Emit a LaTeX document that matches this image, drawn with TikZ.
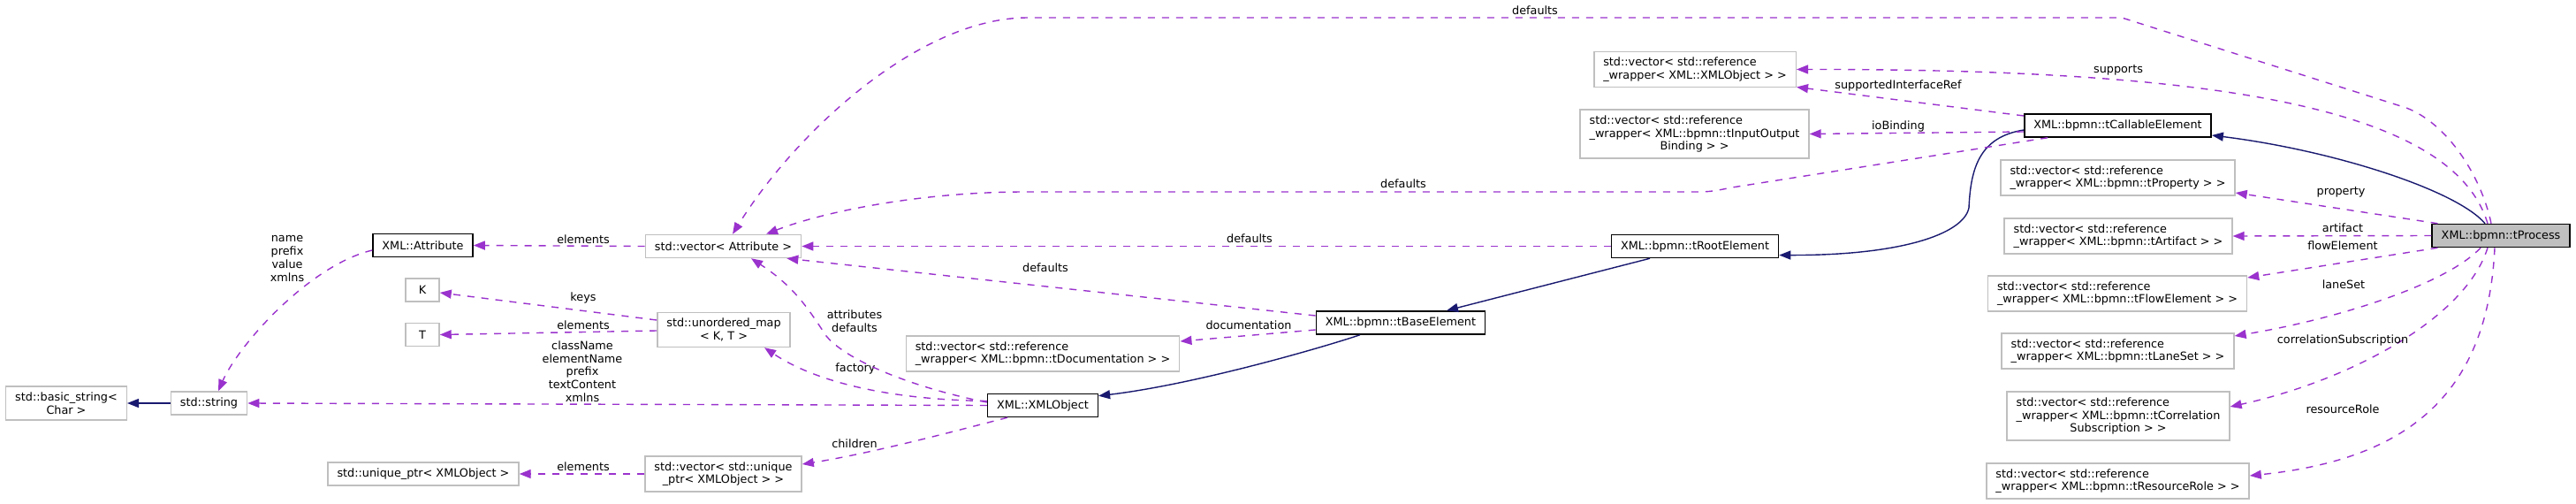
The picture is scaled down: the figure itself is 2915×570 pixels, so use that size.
\documentclass[tikz,border=0pt]{standalone}
\usepackage{fontspec}
\usepackage{xcolor}
\usetikzlibrary{arrows.meta}
\newfontfamily\doxfont{DejaVu Sans}
\definecolor{doxpurple}{HTML}{9A32CD}
\definecolor{doxnavy}{HTML}{191970}
\definecolor{doxgrey}{HTML}{BFBFBF}

\begin{document}
\begin{tikzpicture}[
    x=1pt, y=-1pt,
    cls/.style={draw=doxgrey, line width=1.5pt, fill=white, font=\doxfont\fontsize{12.8}{14.7}\selectfont, align=center, inner xsep=10.5pt, inner ysep=6.5pt, minimum height=26pt},
    doc/.style={cls, draw=black},
    focus/.style={doc, fill=doxgrey},
    lft/.style={align=left},
    lbl/.style={font=\doxfont\fontsize{12.8}{14.7}\selectfont, align=center, inner sep=0pt},
    derive/.style={draw=doxnavy, line width=1.4pt, -{Triangle[length=13pt,width=10pt]}},
    member/.style={draw=doxpurple, line width=1.4pt, dash pattern=on 8pt off 8pt, -{Triangle[length=13pt,width=10pt]}}
]
\useasboundingbox (0,0) rectangle (2915,570);

\node[cls] (basicstr) at (75,456) {std::basic\_string<\\Char >};
\node[cls] (string) at (236.5,456) {std::string};
\node[doc] (attribute) at (478.5,277.5) {XML::Attribute};
\node[cls, minimum width=38pt] (keyK) at (478,328) {K};
\node[cls, minimum width=38pt] (valT) at (478,378.5) {T};
\node[cls] (uniqueptr) at (479,536) {std::unique\_ptr< XMLObject >};
\node[cls] (vecattr) at (818.5,278.5) {std::vector< Attribute >};
\node[cls] (umap) at (819,373) {std::unordered\_map\\< K, T >};
\node[cls] (vecuptr) at (818.5,536) {std::vector< std::unique\\\_ptr< XMLObject > >};
\node[cls, lft] (vecdoc) at (1180,400) {std::vector< std::reference\\\_wrapper< XML::bpmn::tDocumentation > >};
\node[doc] (xmlobject) at (1180,458.5) {XML::XMLObject};
\node[doc] (tbase) at (1585,365) {XML::bpmn::tBaseElement};
\node[doc] (troot) at (1918,278.5) {XML::bpmn::tRootElement};
\node[cls, lft] (vecxobj) at (1918,78.5) {std::vector< std::reference\\\_wrapper< XML::XMLObject > >};
\node[cls, lft] (vecio) at (1917.5,151.5) {std::vector< std::reference\\\_wrapper< XML::bpmn::tInputOutput\\\hfil Binding > >};
\node[doc] (tcallable) at (2396.5,142) {XML::bpmn::tCallableElement};
\node[cls, lft] (vecprop) at (2396.5,201) {std::vector< std::reference\\\_wrapper< XML::bpmn::tProperty > >};
\node[cls, lft] (vecart) at (2397,267) {std::vector< std::reference\\\_wrapper< XML::bpmn::tArtifact > >};
\node[cls, lft] (vecflow) at (2396,332) {std::vector< std::reference\\\_wrapper< XML::bpmn::tFlowElement > >};
\node[cls, lft] (veclane) at (2396.5,397) {std::vector< std::reference\\\_wrapper< XML::bpmn::tLaneSet > >};
\node[cls, lft] (veccorr) at (2397,470.5) {std::vector< std::reference\\\_wrapper< XML::bpmn::tCorrelation\\\hfil Subscription > >};
\node[cls, lft] (vecrole) at (2396.5,544) {std::vector< std::reference\\\_wrapper< XML::bpmn::tResourceRole > >};
\node[focus] (tprocess) at (2830,266.5) {XML::bpmn::tProcess};

% inheritance
\draw[derive] (string.west) -- (basicstr.east);
\draw[derive] ([xshift=-46pt]tbase.south) .. controls (1490,395) and (1350,435) .. ([yshift=-3pt]xmlobject.north east);
\draw[derive] ([xshift=-51pt]troot.south) -- ([xshift=52pt]tbase.north);
\draw[derive] ([yshift=-5pt]tcallable.west) .. controls (2240,155) and (2230,190) .. (2228,235) .. controls (2222,265) and (2150,289) .. ([yshift=-10pt]troot.east);
\draw[derive] ([xshift=-18pt]tprocess.north) .. controls (2780,215) and (2640,170) .. ([yshift=-11pt]tcallable.east);

% members
\draw[member] ([yshift=-5.5pt]attribute.west) .. controls (350,300) and (270,390) .. ([xshift=10.5pt]string.north);
\node[lbl] (lAttrFields) at (325,292.5) {name\\prefix\\value\\xmlns};
\draw[member] (vecattr.west) -- (attribute.east);
\node[lbl] (lElemAttr) at (660,271) {elements};
\draw[member] ([yshift=11pt]umap.west) -- ([yshift=-3pt]keyK.east);
\node[lbl] (lKeys) at (660,337) {keys};
\draw[member] ([yshift=-1pt]umap.west) -- (valT.east);
\node[lbl] (lElemT) at (660,368) {elements};
\draw[member] (xmlobject.west) -- (string.east);
\node[lbl] (lObjFields) at (659,420) {className\\elementName\\prefix\\textContent\\xmlns};
\draw[member] (vecuptr.west) -- (uniqueptr.east);
\node[lbl] (lElemPtr) at (660,528) {elements};
\draw[member] ([xshift=-40pt]xmlobject.south) .. controls (1090,485) and (990,512) .. ([yshift=11pt]vecuptr.east);
\node[lbl] (lChildren) at (967,502) {children};
\draw[member] ([yshift=5pt]xmlobject.west) .. controls (1000,452) and (920,430) .. ([xshift=46pt]umap.south);
\node[lbl] (lFactory) at (968,417) {factory};
\draw[member] ([yshift=3.5pt]xmlobject.west) .. controls (1040,440) and (960,410) .. (935,380) .. controls (915,350) and (900,325) .. ([xshift=31.5pt]vecattr.south);
\node[lbl] (lAttrDefaults) at (967,363) {attributes\\defaults};
\draw[member] ([yshift=-8pt]tbase.west) -- ([yshift=14pt]vecdoc.east);
\node[lbl] (lDocumentation) at (1413,368) {documentation};
\draw[member] ([yshift=8pt]tbase.west) -- ([xshift=-17pt]vecattr.south east);
\node[lbl] (lBaseDefaults) at (1183,303) {defaults};
\draw[member] (troot.west) -- (vecattr.east);
\node[lbl] (lRootDefaults) at (1414,270) {defaults};
\draw[member] ([xshift=27pt]tcallable.south west) -- (1960,212) .. controls (1935,217) .. (1910,217) -- (1160,217) .. controls (1040,217) and (930,240) .. ([xshift=48.5pt]vecattr.north);
\node[lbl] (lCallDefaults) at (1588,208) {defaults};
\draw[member] ([xshift=-11pt]tprocess.north) .. controls (2808,200) and (2770,140) .. (2723,122) -- (2401,20) -- (1163,20) .. controls (1040,20) and (900,150) .. ([xshift=10.5pt]vecattr.north);
\node[lbl] (lProcDefaults) at (1737,12) {defaults};
\draw[member] ([xshift=-15pt]tprocess.north) .. controls (2775,120) and (2500,78) .. (vecxobj.east);
\node[lbl] (lSupports) at (2397,79) {supports};
\draw[member] ([yshift=11pt]tcallable.west) -- ([yshift=-20pt]vecxobj.east);
\node[lbl] (lSupportedRef) at (2148,97) {supportedInterfaceRef};
\draw[member] ([yshift=-7pt]tcallable.west) -- (vecio.east);
\node[lbl] (lIoBinding) at (2148,143) {ioBinding};
\draw[member] ([xshift=7pt]tprocess.north west) -- ([yshift=-17pt]vecprop.east);
\node[lbl] (lProperty) at (2649,217) {property};
\draw[member] (tprocess.west) -- (vecart.east);
\node[lbl] (lArtifact) at (2651,258) {artifact};
\draw[member] ([xshift=7pt]tprocess.south west) -- ([yshift=-3pt]vecflow.north east);
\node[lbl] (lFlowElement) at (2651,278) {flowElement};
\draw[member] ([xshift=-23pt]tprocess.south) .. controls (2770,320) and (2650,360) .. ([yshift=17pt]veclane.east);
\node[lbl] (lLaneSet) at (2652,322) {laneSet};
\draw[member] ([xshift=-15pt]tprocess.south) .. controls (2790,360) and (2660,430) .. ([yshift=10.5pt]veccorr.east);
\node[lbl] (lCorrelation) at (2651,385) {correlationSubscription};
\draw[member] ([xshift=-7pt]tprocess.south) .. controls (2815,450) and (2720,520) .. ([yshift=6pt]vecrole.east);
\node[lbl] (lResourceRole) at (2651,463) {resourceRole};

\end{tikzpicture}
\end{document}
